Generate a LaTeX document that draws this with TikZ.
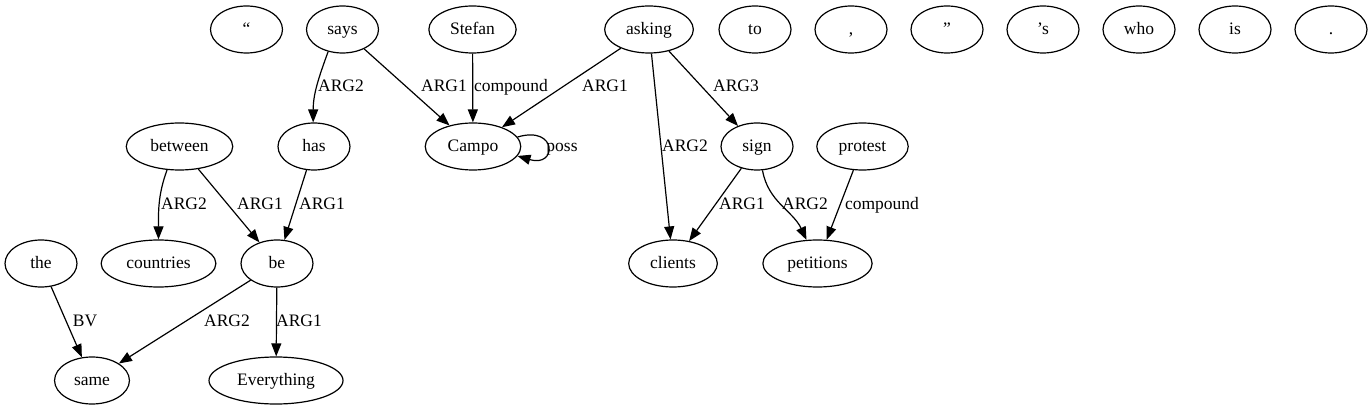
\documentclass[tikz,border=0pt]{standalone}
\usepackage{fontspec}
\setmainfont{Liberation Serif}
\usetikzlibrary{shapes.geometric,arrows.meta}
\begin{document}
\begin{tikzpicture}[x=1pt,y=1pt,
  tok/.style={ellipse, draw, line width=1.2pt, minimum width=72pt, minimum height=47pt, inner xsep=8.5pt, inner ysep=1pt, text height=13pt, text depth=3.4pt, font=\fontsize{17.5}{20}\selectfont},
  edge/.style={draw, line width=1.2pt, -{Triangle[length=13pt,width=10pt]}},
  lbl/.style={inner sep=0pt, text height=13pt, text depth=3.4pt, font=\fontsize{17.5}{20}\selectfont}]
\useasboundingbox[fill=white] (0,0) rectangle (1372,-411);
% row 1
\node[tok] (lq) at (246.5,-29.5) {“};
\node[tok] (says) at (342.5,-29.5) {says};
\node[tok] (stefan) at (472.5,-29.5) {Stefan};
\node[tok] (asking) at (649,-29.5) {asking};
\node[tok] (to) at (755,-29.5) {to};
\node[tok] (comma) at (851,-29.5) {,};
\node[tok] (rq) at (947,-29.5) {”};
\node[tok] (apos) at (1043,-29.5) {’s};
\node[tok] (who) at (1139,-29.5) {who};
\node[tok] (is) at (1235,-29.5) {is};
\node[tok] (dot) at (1331,-29.5) {.};
% row 2
\node[tok] (between) at (179.5,-146.5) {between};
\node[tok] (has) at (314,-146.5) {has};
\node[tok] (campo) at (473,-146.5) {Campo};
\node[tok] (sign) at (757,-146.5) {sign};
\node[tok] (protest) at (862.5,-146.5) {protest};
% row 3
\node[tok] (the) at (41,-263.5) {the};
\node[tok] (countries) at (158.5,-263.5) {countries};
\node[tok] (be) at (277,-263.5) {be};
\node[tok] (clients) at (673,-263.5) {clients};
\node[tok] (petitions) at (817.5,-263.5) {petitions};
% row 4
\node[tok] (same) at (92,-380.5) {same};
\node[tok] (everything) at (276,-380.5) {Everything};
% edges
\draw[edge] (says.237) to[out=250,in=90] (has.92);
\draw[edge] (says) -- (campo);
\draw[edge] (stefan) -- (campo);
\draw[edge] (asking) -- (campo);
\draw[edge] (asking) -- (clients);
\draw[edge] (asking) -- (sign);
\draw[edge] (campo.12) .. controls +(40,12) and +(40,-12) .. (campo.-12);
\draw[edge] (between.242) to[out=250,in=90] (countries.90);
\draw[edge] (between) -- (be);
\draw[edge] (has) -- (be);
\draw[edge] (sign) -- (clients);
\draw[edge] (sign.-77) to[out=-80,in=115] (petitions.115);
\draw[edge] (protest) -- (petitions);
\draw[edge] (the) -- (same);
\draw[edge] (be) -- (same);
\draw[edge] (be) -- (everything);
% labels
\node[lbl] (l1) at (341,-87) {ARG2};
\node[lbl] (l2) at (444,-87) {ARG1};
\node[lbl] (l3) at (511,-87) {compound};
\node[lbl] (l4) at (605,-87) {ARG1};
\node[lbl] (l5) at (736,-87) {ARG3};
\node[lbl] (l6) at (685,-147) {ARG2};
\node[lbl] (l7) at (562,-147) {poss};
\node[lbl] (l8) at (184,-205) {ARG2};
\node[lbl] (l9) at (260,-205) {ARG1};
\node[lbl] (l10) at (322,-205) {ARG1};
\node[lbl] (l11) at (742,-205) {ARG1};
\node[lbl] (l12) at (805,-205) {ARG2};
\node[lbl] (l13) at (882,-205) {compound};
\node[lbl] (l14) at (85,-322) {BV};
\node[lbl] (l15) at (227,-322) {ARG2};
\node[lbl] (l16) at (299,-322) {ARG1};
\end{tikzpicture}
\end{document}
